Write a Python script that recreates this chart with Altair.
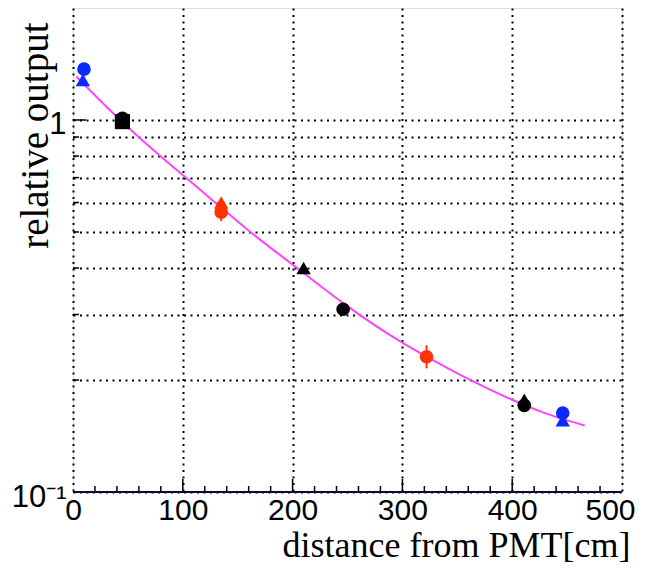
import altair as alt
import pandas as pd

# ---- data ----
blue_circle_x = [10, 446]
blue_circle_y = [1.37, 0.163]
blue_tri_x = [9, 446]
blue_tri_y = [1.28, 0.156]
black_sq_x = [45]
black_sq_y = [0.99]
black_circle_x = [45, 246, 411]
black_circle_y = [1.01, 0.31, 0.171]
black_tri_x = [210, 411]
black_tri_y = [0.40, 0.177]
red_tri_x = [135]
red_tri_y = [0.60]
red_circle_x = [135, 322]
red_circle_y = [0.565, 0.231]
red_err_lo = [0.535, 0.215]
red_err_hi = [0.595, 0.248]

curve_x = [3, 43, 57, 79, 104, 128, 159, 207, 246, 298, 334, 359, 400, 425, 466]
curve_y = [1.309, 1.0, 0.916, 0.803, 0.695, 0.605, 0.507, 0.394, 0.322, 0.254,
           0.221, 0.202, 0.177, 0.165, 0.151]

x_ticks = [0, 100, 200, 300, 400, 500]
x_minor = [20, 40, 60, 80, 120, 140, 160, 180, 220, 240, 260, 280,
           320, 340, 360, 380, 420, 440, 460, 480]
y_ticks = [0.1, 0.2, 0.3, 0.4, 0.5, 0.6, 0.7, 0.8, 0.9, 1.0]
y_minor = [0.2, 0.3, 0.4, 0.5, 0.6, 0.7, 0.8, 0.9]
y_major = [1.0]

W, H = 549, 484

rows = []
def add(xs, ys, grp, shp):
    for a, b in zip(xs, ys):
        rows.append({"x": a, "y": b, "grp": grp, "shp": shp})

add(blue_tri_x, blue_tri_y, "blue", "triangle")
add(blue_circle_x, blue_circle_y, "blue", "circle")
add(black_sq_x, black_sq_y, "black", "square")
add(black_tri_x, black_tri_y, "black", "triangle")
add(black_circle_x, black_circle_y, "black", "circle")
add(red_tri_x, red_tri_y, "red", "triangle")
add(red_circle_x, red_circle_y, "red", "circle")
pts = pd.DataFrame(rows)
pts["order"] = range(len(pts))

err = pd.DataFrame({"x": red_circle_x, "lo": red_err_lo, "hi": red_err_hi})
curve = pd.DataFrame({"x": curve_x, "y": curve_y})
xminor_df = pd.DataFrame({"x": x_minor})
xmajor_df = pd.DataFrame({"x": x_ticks[1:-1]})
yminor_df = pd.DataFrame({"y": y_minor})
ymajor_df = pd.DataFrame({"y": y_major})

grid_dash = [2, 4.5]

xscale = alt.Scale(domain=[0, 500], nice=False, zero=False)
yscale = alt.Scale(type="log", domain=[0.1, 2], nice=False)

xaxis = alt.Axis(
    values=x_ticks, format="d", ticks=False, domain=False,
    grid=True, gridColor="black", gridDash=grid_dash, gridWidth=2, gridOpacity=1,
    labelFont="Liberation Sans", labelFontSize=30, labelColor="black",
    labelPadding=3, labelFlush=False,
    labelOffset={"condition": {"test": "datum.value == 500", "value": -12}, "value": 0},
    title="distance from PMT[cm]", titleFont="Liberation Serif", titleFontSize=36,
    titleFontWeight="normal", titleColor="black", titleAlign="right",
    titleBaseline="alphabetic", titleX=557, titleY=64,
)
yaxis = alt.Axis(
    values=y_ticks, ticks=False, domain=False,
    labelExpr="datum.value > 0.95 ? '1' : (datum.value < 0.15 ? '10⁻¹' : '')",
    grid=True, gridColor="black", gridDash=grid_dash, gridWidth=2, gridOpacity=1,
    labelFont="Liberation Sans", labelFontSize=31, labelColor="black",
    labelPadding=7, labelOffset=5,
    title="relative output", titleFont="Liberation Serif", titleFontSize=39,
    titleFontWeight="normal", titleColor="black", titleAngle=270, titleAlign="right",
    titleBaseline="alphabetic", titleX=-26, titleY=14,
)

X = alt.X("x:Q", scale=xscale, axis=xaxis)
Y = alt.Y("y:Q", scale=yscale, axis=yaxis)

xminor_l = alt.Chart(xminor_df).mark_rule(color="black", strokeWidth=1.5).encode(
    x=X, y=alt.value(H), y2=alt.value(H - 6))
xmajor_l = alt.Chart(xmajor_df).mark_rule(color="black", strokeWidth=1.5).encode(
    x=X, y=alt.value(H), y2=alt.value(H - 13))
yminor_l = alt.Chart(yminor_df).mark_rule(color="black", strokeWidth=1.5).encode(
    y=Y, x=alt.value(0), x2=alt.value(6))
ymajor_l = alt.Chart(ymajor_df).mark_rule(color="black", strokeWidth=1.5).encode(
    y=Y, x=alt.value(0), x2=alt.value(13))

line_l = alt.Chart(curve).mark_line(color="#ff44ff", strokeWidth=2, interpolate="monotone").encode(
    x=X, y=Y)

err_l = alt.Chart(err).mark_rule(color="#ff3300", strokeWidth=2).encode(
    x=X, y=alt.Y("lo:Q", scale=yscale, axis=yaxis), y2="hi:Q")

pts_l = alt.Chart(pts).mark_point(filled=True, opacity=1).encode(
    x=X, y=Y,
    color=alt.Color("grp:N", scale=alt.Scale(domain=["blue", "black", "red"],
                                             range=["#0a2aff", "#000000", "#ff3300"]),
                    legend=None),
    shape=alt.Shape("shp:N", scale=alt.Scale(domain=["circle", "triangle", "square"],
                                             range=["circle", "triangle-up", "square"]),
                    legend=None),
    size=alt.Size("shp:N", scale=alt.Scale(domain=["circle", "triangle", "square"],
                                           range=[185, 230, 150]),
                  legend=None),
    order=alt.Order("order:Q"),
)

bottom_l = alt.Chart(xmajor_df).mark_rule(color="#0a0a3a", strokeWidth=2).encode(
    x=alt.value(0), x2=alt.value(W), y=alt.value(H))

chart = alt.layer(xminor_l, xmajor_l, yminor_l, ymajor_l, line_l, err_l, pts_l, bottom_l).properties(
    width=W, height=H,
    autosize=alt.AutoSizeParams(type="none"),
    padding={"left": 65, "top": 0, "right": 16, "bottom": 72},
).configure_view(stroke="black", strokeWidth=2).configure(background="white")

chart.save("out.html", embed_options={"renderer": "svg", "actions": False})
